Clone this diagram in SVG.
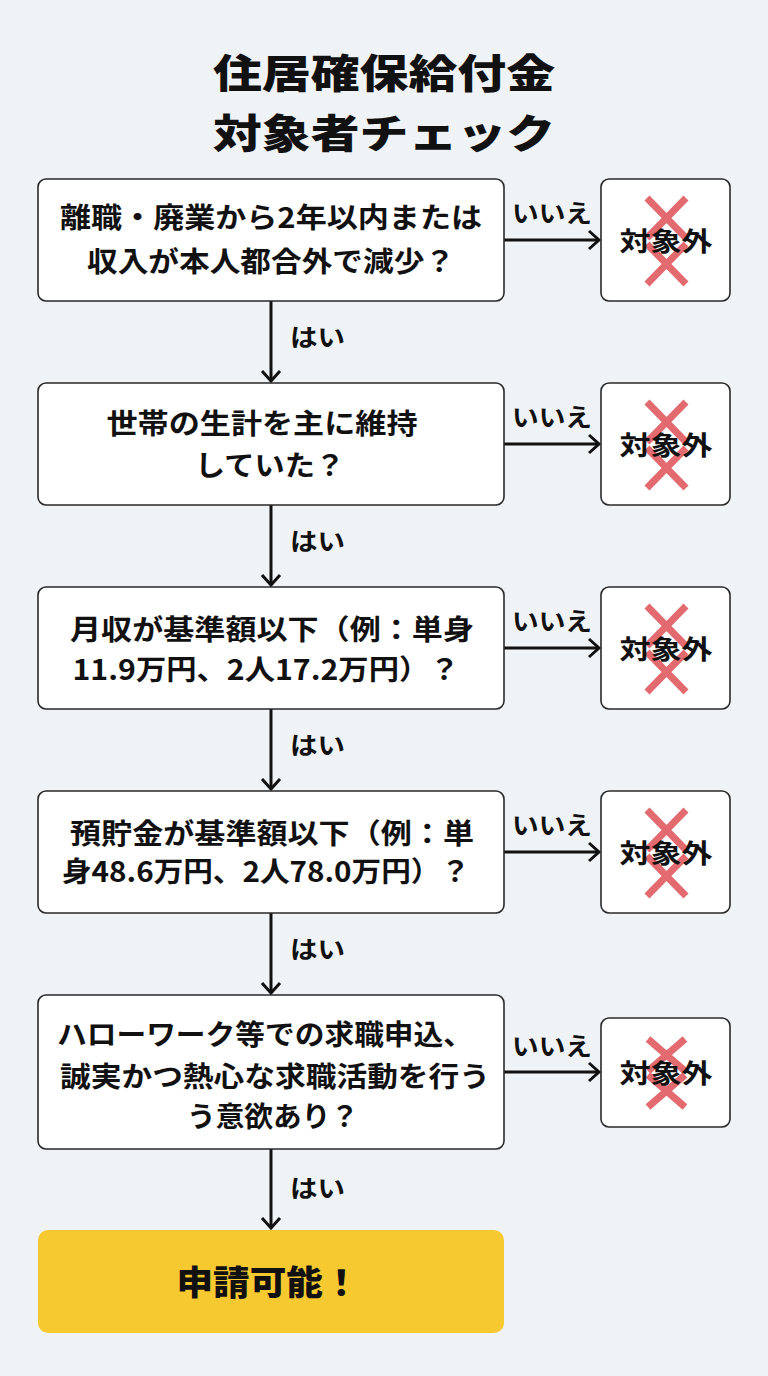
<svg xmlns="http://www.w3.org/2000/svg" width="768" height="1376" viewBox="0 0 768 1376">
<defs>
<style>
.bg{fill:#f0f3f6}
.box{fill:#ffffff;stroke:#2a2a2a;stroke-width:1.6}
.t{font-family:"Noto Sans CJK JP","Noto Sans CJK SC",sans-serif;font-weight:700;fill:#111;text-anchor:middle}
.q{font-size:28px}
.lbl{font-size:24px;font-weight:700;text-anchor:start}
.side{font-size:26px}
.title{font-size:40px;font-weight:900}
.ok{font-size:34px;font-weight:900}
.conn{stroke:#111;stroke-width:3;fill:none}
.x{stroke:#e05a60;stroke-width:7;stroke-linecap:butt;opacity:0.9}
</style>
<marker id="ah" markerUnits="userSpaceOnUse" markerWidth="24" markerHeight="24" viewBox="-12 -12 24 24" refX="0" refY="0" orient="auto">
<polyline points="-10,-9 0,0 -10,9" fill="none" stroke="#111" stroke-width="3" stroke-linejoin="miter"/>
</marker>
</defs>
<rect class="bg" x="0" y="0" width="768" height="1376"/>

<g id="title">
<text class="t title" x="384" y="88" textLength="342" lengthAdjust="spacingAndGlyphs">住居確保給付金</text>
<text class="t title" x="384" y="148" textLength="342" lengthAdjust="spacingAndGlyphs">対象者チェック</text>
</g>

<g id="connectors">
<line class="conn" x1="271" y1="301" x2="271" y2="381" marker-end="url(#ah)"/>
<line class="conn" x1="271" y1="505" x2="271" y2="585" marker-end="url(#ah)"/>
<line class="conn" x1="271" y1="709" x2="271" y2="789" marker-end="url(#ah)"/>
<line class="conn" x1="271" y1="913" x2="271" y2="993" marker-end="url(#ah)"/>
<line class="conn" x1="271" y1="1149" x2="271" y2="1228" marker-end="url(#ah)"/>
<line class="conn" x1="504" y1="240" x2="599" y2="240" marker-end="url(#ah)"/>
<line class="conn" x1="504" y1="444" x2="599" y2="444" marker-end="url(#ah)"/>
<line class="conn" x1="504" y1="648" x2="599" y2="648" marker-end="url(#ah)"/>
<line class="conn" x1="504" y1="852" x2="599" y2="852" marker-end="url(#ah)"/>
<line class="conn" x1="504" y1="1072" x2="599" y2="1072" marker-end="url(#ah)"/>
<text class="t lbl" x="290" y="346" textLength="55" lengthAdjust="spacingAndGlyphs">はい</text>
<text class="t lbl" x="290" y="550" textLength="55" lengthAdjust="spacingAndGlyphs">はい</text>
<text class="t lbl" x="290" y="754" textLength="55" lengthAdjust="spacingAndGlyphs">はい</text>
<text class="t lbl" x="290" y="958" textLength="55" lengthAdjust="spacingAndGlyphs">はい</text>
<text class="t lbl" x="290" y="1197" textLength="55" lengthAdjust="spacingAndGlyphs">はい</text>
<text class="t lbl" x="512" y="222" textLength="80" lengthAdjust="spacingAndGlyphs">いいえ</text>
<text class="t lbl" x="512" y="426" textLength="80" lengthAdjust="spacingAndGlyphs">いいえ</text>
<text class="t lbl" x="512" y="630" textLength="80" lengthAdjust="spacingAndGlyphs">いいえ</text>
<text class="t lbl" x="512" y="834" textLength="80" lengthAdjust="spacingAndGlyphs">いいえ</text>
<text class="t lbl" x="512" y="1055" textLength="80" lengthAdjust="spacingAndGlyphs">いいえ</text>
</g>

<g id="q1">
<rect class="box" x="38" y="179" width="466" height="122" rx="8"/>
<text class="t q" x="271" y="228" textLength="422" lengthAdjust="spacingAndGlyphs">離職・廃業から2年以内または</text>
<text class="t q" x="271" y="272" textLength="368" lengthAdjust="spacingAndGlyphs">収入が本人都合外で減少？</text>
</g>
<g id="q2">
<rect class="box" x="38" y="383" width="466" height="122" rx="8"/>
<text class="t q" x="262" y="434" textLength="311" lengthAdjust="spacingAndGlyphs">世帯の生計を主に維持</text>
<text class="t q" x="270" y="476" textLength="150" lengthAdjust="spacingAndGlyphs">していた？</text>
</g>
<g id="q3">
<rect class="box" x="38" y="587" width="466" height="122" rx="8"/>
<text class="t q" x="272" y="640" textLength="404" lengthAdjust="spacingAndGlyphs">月収が基準額以下（例：単身</text>
<text class="t q" x="266" y="680" textLength="387" lengthAdjust="spacingAndGlyphs">11.9万円、2人17.2万円）？</text>
</g>
<g id="q4">
<rect class="box" x="38" y="791" width="466" height="122" rx="8"/>
<text class="t q" x="272" y="844" textLength="404" lengthAdjust="spacingAndGlyphs">預貯金が基準額以下（例：単</text>
<text class="t q" x="266" y="882" textLength="408" lengthAdjust="spacingAndGlyphs">身48.6万円、2人78.0万円）？</text>
</g>
<g id="q5">
<rect class="box" x="38" y="995" width="466" height="154" rx="8"/>
<text class="t q" x="265" y="1045" textLength="416" lengthAdjust="spacingAndGlyphs">ハローワーク等での求職申込、</text>
<text class="t q" x="275" y="1087" textLength="430" lengthAdjust="spacingAndGlyphs">誠実かつ熱心な求職活動を行う</text>
<text class="t q" x="273" y="1127" textLength="172" lengthAdjust="spacingAndGlyphs">う意欲あり？</text>
</g>

<g id="n1">
<rect class="box" x="601" y="179" width="129" height="122" rx="8"/>
<path class="x" d="M647,198 L686,238 M686,198 L647,238 M647,244 L686,284 M686,244 L647,284"/>
<text class="t side" x="666" y="251" textLength="93" lengthAdjust="spacingAndGlyphs">対象外</text>
</g>
<g id="n2">
<rect class="box" x="601" y="383" width="129" height="122" rx="8"/>
<path class="x" d="M647,402 L686,442 M686,402 L647,442 M647,448 L686,488 M686,448 L647,488"/>
<text class="t side" x="666" y="455" textLength="93" lengthAdjust="spacingAndGlyphs">対象外</text>
</g>
<g id="n3">
<rect class="box" x="601" y="587" width="129" height="122" rx="8"/>
<path class="x" d="M647,606 L686,646 M686,606 L647,646 M647,652 L686,692 M686,652 L647,692"/>
<text class="t side" x="666" y="659" textLength="93" lengthAdjust="spacingAndGlyphs">対象外</text>
</g>
<g id="n4">
<rect class="box" x="601" y="791" width="129" height="122" rx="8"/>
<path class="x" d="M647,810 L686,850 M686,810 L647,850 M647,856 L686,896 M686,856 L647,896"/>
<text class="t side" x="666" y="863" textLength="93" lengthAdjust="spacingAndGlyphs">対象外</text>
</g>
<g id="n5">
<rect class="box" x="601" y="1018" width="129" height="109" rx="8"/>
<path class="x" d="M648,1039 L685,1071 M685,1039 L648,1071 M648,1075 L685,1107 M685,1075 L648,1107"/>
<text class="t side" x="666" y="1083" textLength="93" lengthAdjust="spacingAndGlyphs">対象外</text>
</g>

<g id="ok">
<rect x="38" y="1230" width="466" height="103" rx="10" fill="#f7c930"/>
<text class="t ok" x="268" y="1295" textLength="183" lengthAdjust="spacingAndGlyphs">申請可能！</text>
</g>
</svg>
